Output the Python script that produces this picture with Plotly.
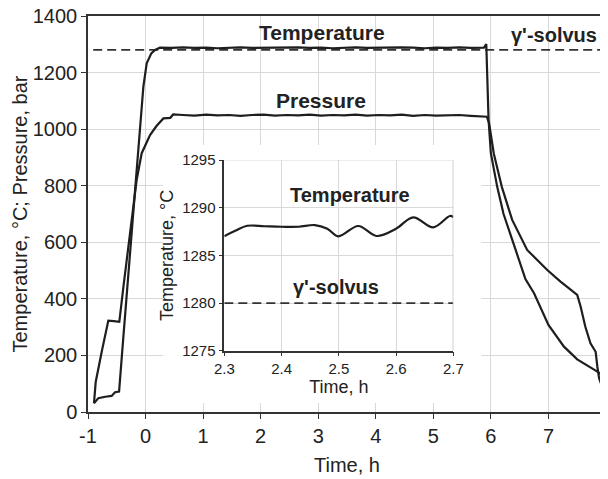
import plotly.graph_objects as go

# ---------------- data ----------------
temp_time = [-0.896, -0.82, -0.70, -0.59, -0.53, -0.46, -0.38, -0.30, -0.183, -0.10, -0.038, 0.02, 0.10, 0.165, 0.25,
             0.45, 0.65, 0.85, 1.05, 1.25, 1.45, 1.65, 1.85, 2.05, 2.25, 2.45, 2.65, 2.85, 3.05, 3.25, 3.45,
             3.65, 3.85, 4.05, 4.25, 4.45, 4.65, 4.85, 5.05, 5.25, 5.45, 5.65, 5.88, 5.92,
             5.96, 6.00, 6.11, 6.22, 6.43, 6.60, 6.75, 7.00, 7.27, 7.50, 7.85, 8.00]
temp_value = [31, 49, 54, 57, 70, 72, 280, 483, 790, 990, 1150, 1233, 1268, 1280, 1288,
              1287, 1289, 1287, 1288, 1286, 1288, 1289, 1287, 1288, 1287, 1288, 1289, 1287, 1288, 1286, 1288,
              1289, 1287, 1288, 1287, 1289, 1288, 1286, 1288, 1287, 1289, 1287, 1288, 1301,
              1032, 914, 796, 700, 573, 470, 420, 308, 231, 186, 143, 119]

pres_time = [-0.896, -0.866, -0.76, -0.647, -0.55, -0.456, -0.38, -0.30, -0.20, -0.155, -0.067, 0.078, 0.19, 0.31, 0.43, 0.48,
             0.65, 0.85, 1.05, 1.25, 1.45, 1.65, 1.85, 2.05, 2.25, 2.45, 2.65, 2.85, 3.05, 3.25, 3.45,
             3.65, 3.85, 4.05, 4.25, 4.45, 4.65, 4.85, 5.05, 5.25, 5.45, 5.65, 5.80, 5.93,
             5.97, 6.05, 6.19, 6.37, 6.63, 6.98, 7.21, 7.50, 7.56, 7.64, 7.73, 7.82, 7.85, 7.88, 8.00]
pres_value = [31, 106, 215, 323, 321, 319, 450, 575, 735, 820, 915, 979, 1011, 1038, 1040, 1052,
              1050, 1048, 1051, 1049, 1050, 1047, 1050, 1051, 1048, 1050, 1049, 1051, 1048, 1050, 1049,
              1051, 1048, 1050, 1049, 1051, 1047, 1050, 1048, 1049, 1050, 1047, 1046, 1044,
              1020, 914, 796, 679, 573, 502, 461, 414, 372, 302, 243, 213, 160, 119, 54]

solvus_value = 1280
solvus_time = [-0.91, 8.0]

inset_time = [2.30, 2.32, 2.34, 2.37, 2.40, 2.43, 2.458, 2.48, 2.499, 2.534, 2.566, 2.60, 2.630, 2.665, 2.694, 2.70]
inset_value = [1287.0, 1287.6, 1288.1, 1288.05, 1288.0, 1288.0, 1288.18, 1287.8, 1287.0, 1288.08, 1287.03,
               1287.8, 1288.99, 1287.94, 1289.13, 1289.0]
inset_solvus_time = [2.3, 2.7]

main_xticks = [-1, 0, 1, 2, 3, 4, 5, 6, 7, 8]
main_yticks = [0, 200, 400, 600, 800, 1000, 1200, 1400]
inset_xticks = [2.3, 2.4, 2.5, 2.6, 2.7]
inset_yticks = [1275, 1280, 1285, 1290, 1295]

# ---------------- figure ----------------
FONT = "Liberation Sans, Arial, sans-serif"
LINE = "#1e1e1e"
AX = "#333333"
GRID = "#d9d9d9"

fig = go.Figure()
fig.add_trace(go.Scatter(x=solvus_time, y=[solvus_value] * 2, mode="lines",
                         line=dict(color="#333333", width=1.8, dash="9px,5px"), hoverinfo="skip"))
fig.add_trace(go.Scatter(x=pres_time, y=pres_value, mode="lines",
                         line=dict(color=LINE, width=2.2)))
fig.add_trace(go.Scatter(x=temp_time, y=temp_value, mode="lines",
                         line=dict(color=LINE, width=2.2)))

fig.add_trace(go.Scatter(x=inset_solvus_time, y=[solvus_value] * 2, mode="lines", xaxis="x2", yaxis="y2",
                         line=dict(color="#333333", width=1.8, dash="9px,5px")))
fig.add_trace(go.Scatter(x=inset_time, y=inset_value, mode="lines", xaxis="x2", yaxis="y2",
                         line=dict(color=LINE, width=2.2, shape="spline", smoothing=1.0)))

# page is drawn with an 8px body margin: shrink the figure and shift everything
OFF = 8
W, H = 608 - OFF, 479 - OFF
PL, PR, PT, PB = 88, 606, 16, 412          # plot area in page pixels
L, R, T, B = PL - OFF, 608 - PR, PT - OFF, 479 - PB
pw, ph = W - L - R, H - T - B


def px_x(p):
    return (p - PL) / pw


def px_y(p):
    return (PB - p) / ph


fig.update_layout(
    width=W, height=H,
    margin=dict(l=L, r=R, t=T, b=B, autoexpand=False),
    paper_bgcolor="white", plot_bgcolor="white",
    showlegend=False,
    font=dict(family=FONT, color="#222222", size=20),
    xaxis=dict(range=[-1, 8], tickvals=main_xticks, ticktext=[str(v) for v in main_xticks],
               automargin=False, ticklabeloverflow="allow",
               showgrid=True, gridcolor=GRID, gridwidth=1, zeroline=False,
               showline=True, linecolor=AX, linewidth=1.5, mirror=True,
               ticks="outside", ticklen=5, tickcolor=AX, tickwidth=1.2,
               tickfont=dict(size=20, color="#222222"),
               title=dict(text="Time, h", font=dict(size=20), standoff=12)),
    yaxis=dict(range=[0, 1400], tickvals=main_yticks, automargin=False, ticklabeloverflow="allow",
               showgrid=True, gridcolor=GRID, gridwidth=1, zeroline=False,
               showline=True, linecolor=AX, linewidth=1.5, mirror=True,
               ticks="outside", ticklen=5, tickcolor=AX, tickwidth=1.2,
               tickfont=dict(size=20, color="#222222"),
               title=dict(text="Temperature, °C; Pressure, bar", font=dict(size=20), standoff=0)),
    xaxis2=dict(domain=[px_x(224.3), px_x(453.3)], anchor="y2", range=[2.3, 2.7], tickvals=inset_xticks,
                ticktext=["2.3", "2.4", "2.5", "2.6", "2.7"], automargin=False,
                showgrid=True, gridcolor=GRID, zeroline=False,
                showline=True, linecolor=AX, linewidth=1.5,
                ticks="outside", ticklen=4, tickcolor=AX,
                tickfont=dict(size=15, color="#222222"),
                title=dict(text="Time, h", font=dict(size=18), standoff=2)),
    yaxis2=dict(domain=[px_y(350.7), px_y(160)], anchor="x2", range=[1275, 1295], tickvals=inset_yticks,
                automargin=False,
                showgrid=True, gridcolor=GRID, zeroline=False,
                showline=True, linecolor=AX, linewidth=1.5,
                ticks="outside", ticklen=4, tickcolor=AX,
                tickfont=dict(size=15, color="#222222"),
                title=dict(text="Temperature, °C", font=dict(size=18), standoff=4)),
)

# white panel behind the inset (above main gridlines, below traces)
fig.add_shape(type="rect", xref="x", yref="y",
              x0=-1 + (163 - 88) / 57.5, x1=-1 + (481 - 88) / 57.5,
              y0=(412 - 403) / 0.28286, y1=(412 - 145) / 0.28286,
              fillcolor="white", line=dict(width=0), layer="between")
# inset frame edges (right, top) in light gray
fig.add_shape(type="line", xref="x2", yref="y2", x0=2.7, x1=2.7, y0=1275, y1=1295,
              line=dict(color="#b0b0b0", width=1.2))
fig.add_shape(type="line", xref="x2", yref="y2", x0=2.3, x1=2.7, y0=1295, y1=1295,
              line=dict(color=GRID, width=1))

bold = dict(family=FONT, size=21, color="#222222")
fig.add_annotation(x=3.07, y=1340, xref="x", yref="y", text="<b>Temperature</b>", showarrow=False, font=bold)
fig.add_annotation(x=3.05, y=1103, xref="x", yref="y", text="<b>Pressure</b>", showarrow=False, font=bold)
fig.add_annotation(x=7.09, y=1333, xref="x", yref="y", text="<b>γ'-solvus</b>", showarrow=False,
                   font=dict(family=FONT, size=20, color="#222222"))
fig.add_annotation(x=2.519, y=1291.3, xref="x2", yref="y2", text="<b>Temperature</b>", showarrow=False,
                   font=dict(family=FONT, size=20, color="#222222"))
fig.add_annotation(x=2.495, y=1281.7, xref="x2", yref="y2", text="<b>γ'-solvus</b>", showarrow=False,
                   font=dict(family=FONT, size=20, color="#222222"))

fig.write_html("out.html")
